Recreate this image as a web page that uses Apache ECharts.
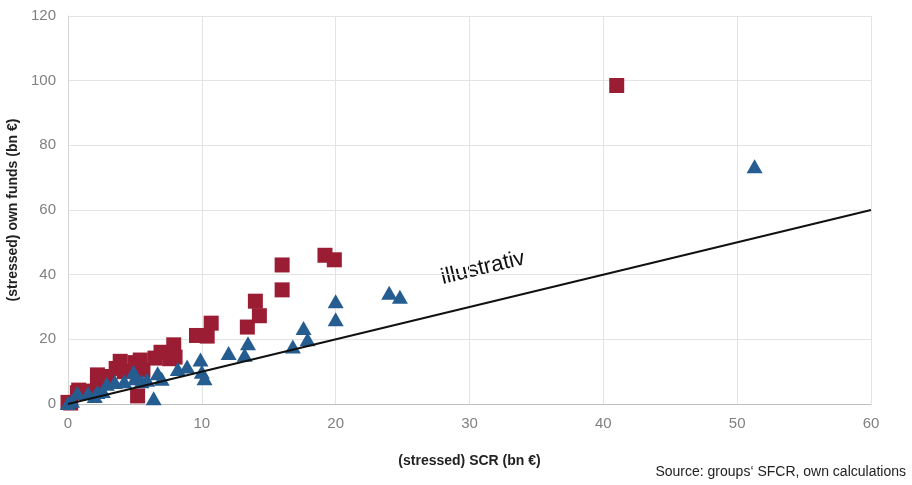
<!DOCTYPE html>
<html>
<head>
<meta charset="utf-8">
<script src="https://cdn.jsdelivr.net/npm/echarts@6/dist/echarts.min.js"></script>
<style>
  html, body { margin: 0; padding: 0; background: #fff; }
  #chart { width: 912px; height: 485px; }
</style>
</head>
<body>
<div id="chart"></div>
<script>
// stressed own funds vs stressed SCR (bn €)
const squaresData = [
  [0, 0.5], [0.2, 0.3], [0.7, 3.5], [0.8, 4.3], [1.5, 4], [2.2, 6.5], [2.4, 7.5],
  [2.2, 9], [3, 8.5], [3.6, 11], [3.9, 13.2], [4.2, 10], [5, 12.8], [5.2, 2.5],
  [5.4, 13.6], [5.6, 10.5], [6.5, 14.2], [6.95, 16], [7.6, 14], [7.9, 18.3], [8, 14.5],
  [9.6, 21.2], [10.4, 21], [10.7, 25], [13.4, 23.8], [14, 31.8], [14.3, 27.3],
  [16, 43], [16, 35.3], [19.2, 46], [19.9, 44.6], [41, 98.5]
]
const trianglesData = [
  [0, 0.3], [0.3, 1], [0.7, 3.5], [1.5, 3.3], [2, 2.5], [2.2, 3.7], [2.6, 4],
  [2.9, 6.3], [3.5, 6.8], [4.2, 7], [4.9, 10], [5, 8], [5.5, 7], [5.9, 7.5],
  [6.4, 1.8], [6.7, 9.5], [7, 7.8], [8.2, 10.8], [8.9, 11.6], [9.9, 13.8], [10, 10],
  [10.2, 8], [12, 15.8], [13.2, 15.2], [13.45, 18.8], [16.8, 17.8], [17.6, 23.5],
  [17.9, 20], [20, 31.8], [20, 26.2], [24, 34.4], [24.8, 33.2], [51.3, 73.5]
]
const lineData = [[0, 0], [60, 60]]

const chart = echarts.init(document.getElementById('chart'))
chart.setOption({
  animation: false,
  grid: { left: 68, right: 41, top: 16, bottom: 81, outerBoundsMode: 'none', containLabel: false },
  xAxis: {
    type: 'value', min: 0, max: 60, interval: 10,
    name: '(stressed) SCR (bn €)', nameLocation: 'middle', nameGap: 50,
    nameTextStyle: { fontSize: 14, fontWeight: 'bold', color: '#222', fontFamily: 'Liberation Sans' },
    axisLine: { show: true, lineStyle: { color: '#bfbfbf' } },
    axisTick: { show: false },
    axisLabel: { color: '#808080', fontSize: 15, margin: 12, fontFamily: 'Liberation Sans' },
    splitLine: { lineStyle: { color: '#e3e3e3' } }
  },
  yAxis: {
    type: 'value', min: 0, max: 120, interval: 20,
    name: '(stressed) own funds (bn €)', nameLocation: 'middle', nameGap: 43, nameRotate: 90,
    nameTextStyle: { fontSize: 14, fontWeight: 'bold', color: '#222', fontFamily: 'Liberation Sans' },
    axisLine: { show: true, lineStyle: { color: '#d6d6d6' } },
    axisTick: { show: false },
    axisLabel: { color: '#808080', fontSize: 15, margin: 12, fontFamily: 'Liberation Sans' },
    splitLine: { lineStyle: { color: '#e3e3e3' } }
  },
  series: [
    {
      type: 'scatter', data: squaresData, symbol: 'rect', symbolSize: 15,
      itemStyle: { color: '#9a1d33', opacity: 1 }, z: 2
    },
    {
      type: 'scatter', data: trianglesData, symbol: 'triangle', symbolSize: [16, 14],
      itemStyle: { color: '#255d91', opacity: 1 }, z: 3
    },
    {
      type: 'line', data: lineData, showSymbol: false, symbol: 'none',
      lineStyle: { color: '#111', width: 2 }, z: 4
    }
  ],
  graphic: [
    {
      type: 'text', x: 483, y: 268, rotation: Math.atan(60 * 3.233 / (60 * 13.38)),
      style: { text: 'illustrativ', fontSize: 22, fill: '#111', fontFamily: 'Liberation Sans',
        textAlign: 'center', textVerticalAlign: 'middle' }
    },
    {
      type: 'text', right: 6, top: 465,
      style: { text: 'Source: groups‘ SFCR, own calculations', fontSize: 14, fill: '#222',
        fontFamily: 'Liberation Sans' }
    }
  ]
})
</script>
</body>
</html>
